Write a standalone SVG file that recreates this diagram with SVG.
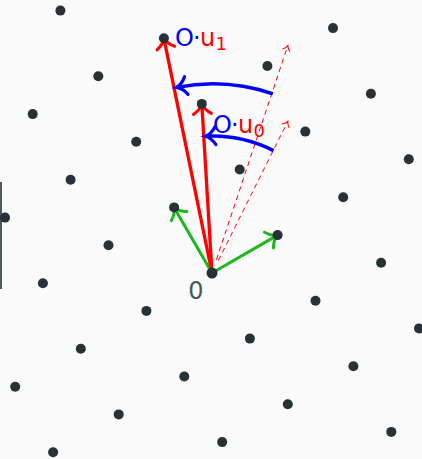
<svg xmlns="http://www.w3.org/2000/svg" width="422" height="459" viewBox="0 0 422 459">
<style>
.dot{fill:#263238}
.lbl{font-family:"DejaVu Sans",Roboto,sans-serif;font-size:24px}
.sub{font-size:18px}
.b{fill:#0000ff}
.r{fill:#ff0000}
.vec-r{stroke:#ff0000;stroke-width:3.3;fill:none}
.vec-g{stroke:#1cb81c;stroke-width:3;fill:none}
.arc-b{stroke:#0000ff;stroke-width:3.5;fill:none}
.dash{stroke:#ff0000;stroke-width:1;fill:none;stroke-dasharray:5 4}
</style>
<defs>
<marker id="ahR" markerUnits="userSpaceOnUse" markerWidth="30" markerHeight="30" refX="0" refY="0" orient="auto" overflow="visible">
<path d="M-10,-9 C-7,-4 -3,-1 0,0 C-3,1 -7,4 -10,9" fill="none" stroke="#ff0000" stroke-width="3" stroke-linecap="round"/>
</marker>
<marker id="ahG" markerUnits="userSpaceOnUse" markerWidth="30" markerHeight="30" refX="0" refY="0" orient="auto" overflow="visible">
<path d="M-10,-9 C-7,-4 -3,-1 0,0 C-3,1 -7,4 -10,9" fill="none" stroke="#1cb81c" stroke-width="3" stroke-linecap="round"/>
</marker>
<marker id="ahB" markerUnits="userSpaceOnUse" markerWidth="30" markerHeight="30" refX="0" refY="0" orient="auto" overflow="visible">
<path d="M-10,-9 C-7,-4 -3,-1 0,0 C-3,1 -7,4 -10,9" fill="none" stroke="#0000ff" stroke-width="3.2" stroke-linecap="round"/>
</marker>
<marker id="ahD" markerUnits="userSpaceOnUse" markerWidth="20" markerHeight="20" refX="0" refY="0" orient="auto" overflow="visible">
<path d="M-5,-4 C-3.5,-2 -1.5,-0.5 0,0 C-1.5,0.5 -3.5,2 -5,4" fill="none" stroke="#ff0000" stroke-width="1"/>
</marker>
</defs>
<rect x="0" y="0" width="422" height="459" fill="#fafafa"/>
<rect x="0" y="182" width="2" height="107" fill="#4d5a5a"/>
<g id="connectors">
<line class="dash" x1="216.4" y1="259.7" x2="287.8" y2="45.6" marker-end="url(#ahD)"/>
<line class="dash" x1="218.3" y1="260.5" x2="287.8" y2="121.4" marker-end="url(#ahD)"/>
<line class="vec-g" x1="212" y1="273" x2="277.6" y2="235.1" marker-end="url(#ahG)"/>
<line class="vec-g" x1="212" y1="273" x2="174.1" y2="207.4" marker-end="url(#ahG)"/>
<line class="vec-r" x1="212" y1="273" x2="163.9" y2="38.3" marker-end="url(#ahR)"/>
<line class="vec-r" x1="212" y1="273" x2="201.8" y2="103.9" marker-end="url(#ahR)"/>
<path class="arc-b" d="M272.8,93.8 A189,189 0 0 0 176.5,87.4" marker-end="url(#ahB)"/>
<path class="arc-b" d="M273.5,150.6 A137,137 0 0 0 205.5,136.2" marker-end="url(#ahB)"/>
</g>
<g id="lattice">
<g id="p1"><circle class="dot" cx="60.4" cy="10.6" r="5"/></g>
<g id="p2"><circle class="dot" cx="-5.2" cy="48.5" r="5"/></g>
<g id="p3"><circle class="dot" cx="163.9" cy="38.3" r="5"/></g>
<g id="p4"><circle class="dot" cx="333" cy="28.1" r="5"/></g>
<g id="p5"><circle class="dot" cx="98.3" cy="76.2" r="5"/></g>
<g id="p6"><circle class="dot" cx="267.4" cy="66" r="5"/></g>
<g id="p7"><circle class="dot" cx="370.9" cy="93.7" r="5"/></g>
<g id="p8"><circle class="dot" cx="32.7" cy="114.1" r="5"/></g>
<g id="p9"><circle class="dot" cx="201.8" cy="103.9" r="5"/></g>
<g id="p10"><circle class="dot" cx="305.3" cy="131.6" r="5"/></g>
<g id="p11"><circle class="dot" cx="136.2" cy="141.8" r="5"/></g>
<g id="p12"><circle class="dot" cx="408.8" cy="159.3" r="5"/></g>
<g id="p13"><circle class="dot" cx="239.7" cy="169.5" r="5"/></g>
<g id="p14"><circle class="dot" cx="70.6" cy="179.7" r="5"/></g>
<g id="p15"><circle class="dot" cx="343.2" cy="197.2" r="5"/></g>
<g id="p16"><circle class="dot" cx="174.1" cy="207.4" r="5"/></g>
<g id="p17"><circle class="dot" cx="5" cy="217.6" r="5"/></g>
<g id="p18"><circle class="dot" cx="277.6" cy="235.1" r="5"/></g>
<g id="p19"><circle class="dot" cx="108.5" cy="245.3" r="5"/></g>
<g id="p20"><circle class="dot" cx="381.1" cy="262.8" r="5"/></g>
<g id="origin"><circle class="dot" cx="212" cy="273" r="5.5"/></g>
<g id="p22"><circle class="dot" cx="42.9" cy="283.2" r="5"/></g>
<g id="p23"><circle class="dot" cx="315.5" cy="300.7" r="5"/></g>
<g id="p24"><circle class="dot" cx="146.4" cy="310.9" r="5"/></g>
<g id="p25"><circle class="dot" cx="419" cy="328.4" r="5"/></g>
<g id="p26"><circle class="dot" cx="249.9" cy="338.6" r="5"/></g>
<g id="p27"><circle class="dot" cx="80.8" cy="348.8" r="5"/></g>
<g id="p28"><circle class="dot" cx="353.4" cy="366.3" r="5"/></g>
<g id="p29"><circle class="dot" cx="184.3" cy="376.5" r="5"/></g>
<g id="p30"><circle class="dot" cx="15.2" cy="386.7" r="5"/></g>
<g id="p31"><circle class="dot" cx="287.8" cy="404.2" r="5"/></g>
<g id="p32"><circle class="dot" cx="118.7" cy="414.4" r="5"/></g>
<g id="p33"><circle class="dot" cx="391.3" cy="431.9" r="5"/></g>
<g id="p34"><circle class="dot" cx="222.2" cy="442.1" r="5"/></g>
<g id="p35"><circle class="dot" cx="53.1" cy="452.3" r="5"/></g>
</g>
<g id="labels">
<text class="lbl" x="196" y="299" text-anchor="middle" fill="#4d5858" font-size="23">0</text>
<text class="lbl" x="175" y="46"><tspan class="b">O</tspan><tspan class="b" x="193">·</tspan><tspan class="r" x="200">u</tspan><tspan class="r sub" x="215.5" y="50">1</tspan></text>
<text class="lbl" x="213" y="133"><tspan class="b">O</tspan><tspan class="b" x="231">·</tspan><tspan class="r" x="238">u</tspan><tspan class="r sub" x="253.5" y="137">0</tspan></text>
</g>
</svg>
